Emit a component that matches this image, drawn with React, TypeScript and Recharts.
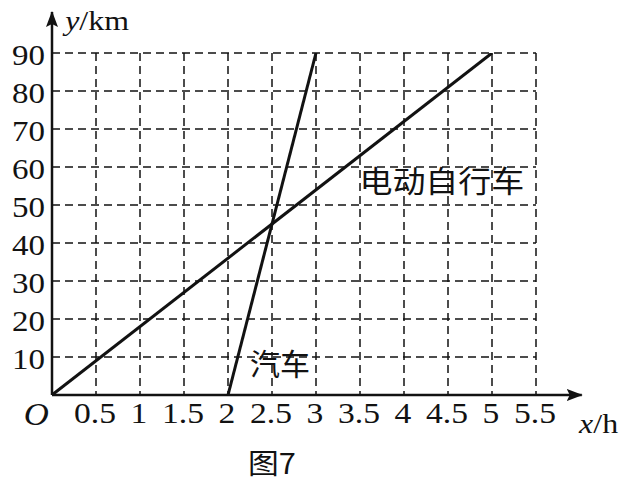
import { CartesianGrid, Line, LineChart, ReferenceDot, ReferenceLine, XAxis, YAxis } from "recharts";

const SERIF = "'Liberation Serif', 'Times New Roman', 'Noto Sans CJK SC', serif";
const CJK = "'Noto Sans CJK SC', 'Liberation Serif', sans-serif";
const INK = "#121212";

// 电动自行车: (0 h, 0 km) -> (5 h, 90 km)
const bikeHours = [0, 5];
const bikeKm = [0, 90];
// 汽车: (2 h, 0 km) -> (3 h, 90 km)
const carHours = [2, 3];
const carKm = [0, 90];

const xTicks = [0.5, 1, 1.5, 2, 2.5, 3, 3.5, 4, 4.5, 5, 5.5];
const yTicks = [10, 20, 30, 40, 50, 60, 70, 80, 90];

const bikeData = bikeHours.map((x, i) => ({ x, y: bikeKm[i] }));
const carData = carHours.map((x, i) => ({ x, y: carKm[i] }));

function XTick({ x, y, payload }: any) {
  return (
    <text
      transform={`translate(${x - 1},${y + 28}) scale(1.12,1)`}
      textAnchor="middle"
      fontFamily={SERIF}
      fontSize={30}
      fill={INK}
    >
      {payload.value}
    </text>
  );
}

function YTick({ x, y, payload }: any) {
  return (
    <text
      transform={`translate(${x},${y + 12}) scale(1.1,1)`}
      textAnchor="end"
      fontFamily={SERIF}
      fontSize={30}
      fill={INK}
    >
      {payload.value}
    </text>
  );
}

function label(text: string, opts: { size: number; family: string; italic?: boolean; sx?: number }) {
  return (p: any) => (
    <text
      transform={`translate(${p.cx},${p.cy}) scale(${opts.sx ?? 1.12},1)`}
      textAnchor="middle"
      dominantBaseline="central"
      fontFamily={opts.family}
      fontSize={opts.size}
      fontStyle={opts.italic ? "italic" : "normal"}
      fill={INK}
    >
      {text}
    </text>
  );
}

function AxisUnit({ cx, cy, v, u }: any) {
  return (
    <text transform={`translate(${cx},${cy}) scale(1.14,1)`} fontFamily={SERIF} fontSize={28} fill={INK}>
      <tspan fontStyle="italic">{v}</tspan>
      <tspan>/{u}</tspan>
    </text>
  );
}

export default function App() {
  return (
    <div style={{ position: "absolute", left: 0, top: 0, background: "#fff" }}>
      <LineChart width={624} height={482} margin={{ top: 53, right: 88, bottom: 57, left: 0 }}>
        <defs>
          <marker id="arrowHead" viewBox="0 0 16 12" refX="15" refY="6" markerWidth="16" markerHeight="12" markerUnits="userSpaceOnUse" orient="auto">
            <path d="M0,0 L16,6 L0,12 L3,6 z" fill={INK} />
          </marker>
        </defs>
        <CartesianGrid stroke={INK} strokeWidth={1.5} strokeDasharray="8 5" />
        <XAxis
          dataKey="x"
          type="number"
          domain={[0, 5.5]}
          ticks={xTicks}
          height={30}
          axisLine={false}
          tickLine={false}
          tickSize={0}
          tickMargin={0}
          tick={<XTick />}
          interval={0}
          allowDataOverflow
        />
        <YAxis
          type="number"
          domain={[0, 90]}
          ticks={yTicks}
          width={52}
          axisLine={false}
          tickLine={false}
          tickSize={0}
          tickMargin={7}
          tick={<YTick />}
          interval={0}
          allowDataOverflow
        />
        <ReferenceLine
          segment={[{ x: 0, y: 0 }, { x: 6.02, y: 0 }]}
          ifOverflow="visible"
          stroke={INK}
          strokeWidth={2.5}
          markerEnd="url(#arrowHead)"
        />
        <ReferenceLine
          segment={[{ x: 0, y: 0 }, { x: 0, y: 100.8 }]}
          ifOverflow="visible"
          stroke={INK}
          strokeWidth={2.5}
          markerEnd="url(#arrowHead)"
        />
        <Line data={bikeData} dataKey="y" stroke={INK} strokeWidth={3} dot={false} isAnimationActive={false} />
        <Line data={carData} dataKey="y" stroke={INK} strokeWidth={3} dot={false} isAnimationActive={false} />
        <ReferenceDot x={4.43} y={56.8} r={0} ifOverflow="visible" shape={label("电动自行车", { size: 30, family: CJK, sx: 1.1 })} />
        <ReferenceDot x={2.59} y={8.7} r={0} ifOverflow="visible" shape={label("汽车", { size: 30, family: CJK, sx: 1.0 })} />
        <ReferenceDot x={-0.18} y={-5.1} r={0} ifOverflow="visible" shape={label("O", { size: 31, family: SERIF, italic: true })} />
        <ReferenceDot x={0.15} y={96.1} r={0} ifOverflow="visible" shape={(p: any) => <AxisUnit {...p} v="y" u="km" />} />
        <ReferenceDot x={5.99} y={-9.9} r={0} ifOverflow="visible" shape={(p: any) => <AxisUnit {...p} v="x" u="h" />} />
        <ReferenceDot x={2.5} y={-17.6} r={0} ifOverflow="visible" shape={label("图7", { size: 28, family: CJK, sx: 1.1 })} />
      </LineChart>
    </div>
  );
}
